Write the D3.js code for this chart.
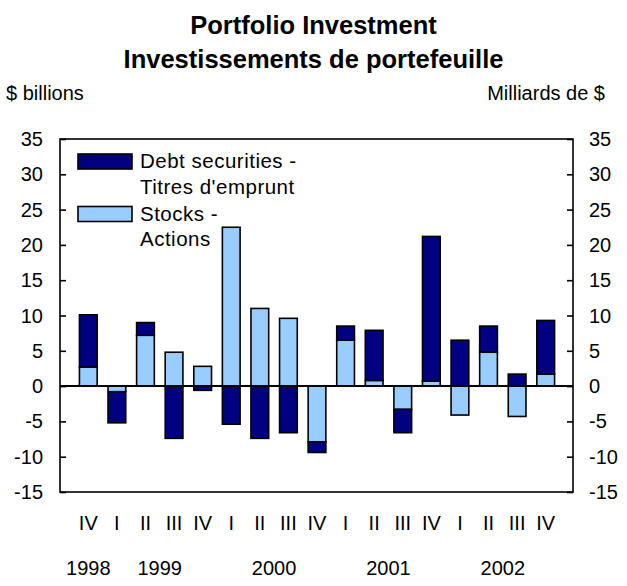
<!DOCTYPE html>
<html>
<head>
<meta charset="utf-8">
<script src="https://cdn.jsdelivr.net/npm/d3@7"></script>
<style>
  body { margin: 0; background: #fff; }
  text { font-family: "Liberation Sans", Arial, sans-serif; fill: #000; }
</style>
</head>
<body>
<div id="graphic"></div>
<script>
// quarterly values, 1998 IV .. 2002 IV ($ billions)
const quarters = ["IV", "I", "II", "III", "IV", "I", "II", "III", "IV", "I", "II", "III", "IV", "I", "II", "III", "IV"];
const debt = [7.4, -4.4, 1.8, -7.4, -0.6, -5.4, -7.4, -6.6, -1.5, 2.0, 7.1, -3.3, 20.5, 6.5, 3.7, 1.7, 7.6];
const stocks = [2.7, -0.8, 7.2, 4.8, 2.8, 22.5, 11.0, 9.6, -7.9, 6.5, 0.8, -3.3, 0.7, -4.1, 4.8, -4.3, 1.7];
const years = ["1998", "1999", "2000", "2001", "2002"];
const yearFirst = [0, 1, 5, 9, 13];
const yearLast = [0, 4, 8, 12, 16];
const yTicks = [-15, -10, -5, 0, 5, 10, 15, 20, 25, 30, 35];

const W = 627, H = 586;
const margin = { top: 139, right: 54, bottom: 94, left: 60 };
const plotLeft = margin.left, plotRight = W - margin.right,
      plotTop = margin.top, plotBottom = H - margin.bottom;

const svg = d3.select("#graphic")
    .append("svg")
    .attr("width", W)
    .attr("height", H);

const x = d3.scaleBand()
    .domain(d3.range(quarters.length))
    .range([74, 560])
    .paddingInner(0.38)
    .paddingOuter(0.19);

const y = d3.scaleLinear()
    .domain([-15, 35])
    .range([plotBottom, plotTop]);

const colors = { stocks: "#99ccff", debt: "#000080" };

// titles
svg.append("text")
    .attr("x", W / 2).attr("y", 34)
    .attr("text-anchor", "middle")
    .style("font-weight", "bold").style("font-size", "25.5px")
    .text("Portfolio Investment");
svg.append("text")
    .attr("x", W / 2).attr("y", 68)
    .attr("text-anchor", "middle")
    .style("font-weight", "bold").style("font-size", "25.5px")
    .text("Investissements de portefeuille");

svg.append("text")
    .attr("x", 6).attr("y", 100)
    .style("font-size", "20px")
    .text("$ billions");
svg.append("text")
    .attr("x", 605).attr("y", 100)
    .attr("text-anchor", "end")
    .style("font-size", "20px")
    .text("Milliards de $");

// stacked bars, stocks next to zero
const table = quarters.map((q, i) => ({ i: i, stocks: stocks[i], debt: debt[i] }));
const series = d3.stack()
    .keys(["stocks", "debt"])
    .offset(d3.stackOffsetDiverging)(table);

svg.append("g")
    .selectAll("g")
    .data(series)
    .join("g")
    .attr("fill", d => colors[d.key])
    .selectAll("rect")
    .data(d => d)
    .join("rect")
    .attr("x", d => x(d.data.i))
    .attr("width", x.bandwidth())
    .attr("y", d => y(Math.max(d[0], d[1])))
    .attr("height", d => Math.abs(y(d[0]) - y(d[1])))
    .attr("stroke", "#000")
    .attr("stroke-width", 1.6);

// zero line
svg.append("line")
    .attr("x1", plotLeft).attr("x2", plotRight)
    .attr("y1", y(0)).attr("y2", y(0))
    .attr("stroke", "#000").attr("stroke-width", 2);

// frame
svg.append("rect")
    .attr("x", plotLeft).attr("y", plotTop)
    .attr("width", plotRight - plotLeft).attr("height", plotBottom - plotTop)
    .attr("fill", "none")
    .attr("stroke", "#000").attr("stroke-width", 1.6);

// y axes, ticks pointing inward
const leftAxis = svg.append("g")
    .attr("transform", `translate(${plotLeft},0)`)
    .call(d3.axisRight(y).tickValues(yTicks).tickSize(6).tickFormat(""));
const rightAxis = svg.append("g")
    .attr("transform", `translate(${plotRight},0)`)
    .call(d3.axisLeft(y).tickValues(yTicks).tickSize(6).tickFormat(""));
[leftAxis, rightAxis].forEach(a => {
    a.select(".domain").remove();
    a.selectAll("line").attr("stroke", "#000").attr("stroke-width", 1.6);
});

svg.append("g")
    .selectAll("text")
    .data(yTicks)
    .join("text")
    .attr("x", 43)
    .attr("y", d => y(d) + 7)
    .attr("text-anchor", "end")
    .style("font-size", "20px")
    .text(d => d);
svg.append("g")
    .selectAll("text")
    .data(yTicks)
    .join("text")
    .attr("x", 589)
    .attr("y", d => y(d) + 7)
    .style("font-size", "20px")
    .text(d => d);

// x labels
svg.append("g")
    .selectAll("text")
    .data(quarters)
    .join("text")
    .attr("x", (d, i) => x(i) + x.bandwidth() / 2)
    .attr("y", 530)
    .attr("text-anchor", "middle")
    .style("font-size", "20px")
    .text(d => d);

svg.append("g")
    .selectAll("text")
    .data(years)
    .join("text")
    .attr("x", (d, i) => (x(yearFirst[i]) + x(yearLast[i])) / 2 + x.bandwidth() / 2)
    .attr("y", 575)
    .attr("text-anchor", "middle")
    .style("font-size", "20px")
    .text(d => d);

// legend
const legend = [
    { key: "debt", lines: ["Debt securities -", "Titres d'emprunt"], y: 154 },
    { key: "stocks", lines: ["Stocks -", "Actions"], y: 206.5 }
];
const lg = svg.append("g");
legend.forEach(l => {
    lg.append("rect")
        .attr("x", 78).attr("y", l.y)
        .attr("width", 54).attr("height", 15)
        .attr("fill", colors[l.key])
        .attr("stroke", "#000").attr("stroke-width", 1.6);
    l.lines.forEach((t, j) => {
        lg.append("text")
            .attr("x", 140)
            .attr("y", l.y + 14 + j * 25.5)
            .style("font-size", "20.5px")
            .style("letter-spacing", "0.5px")
            .text(t);
    });
});
</script>
</body>
</html>
